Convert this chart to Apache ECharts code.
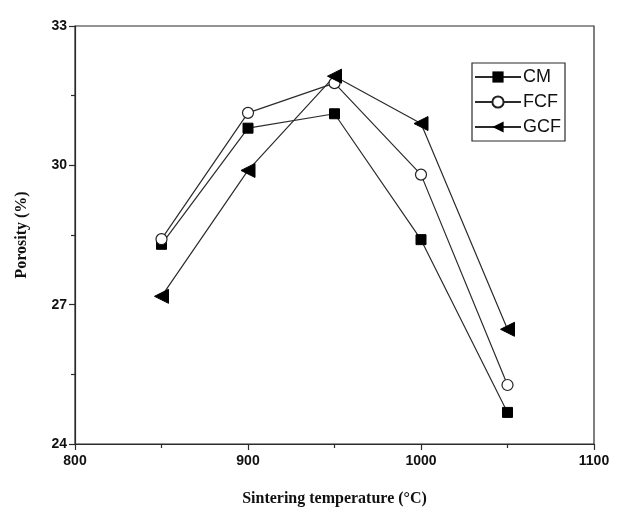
<!DOCTYPE html>
<html>
<head>
<meta charset="utf-8">
<script src="https://cdn.jsdelivr.net/npm/echarts@6/dist/echarts.min.js"></script>
<style>
  html, body { margin: 0; padding: 0; background: #fff; }
  #chart { width: 622px; height: 512px; }
</style>
</head>
<body>
<div id="chart"></div>
<script>
const temps = [850, 900, 950, 1000, 1050];
const cmVals = [28.30, 30.80, 31.11, 28.40, 24.68];
const fcfVals = [28.41, 31.13, 31.77, 29.80, 25.27];
const gcfVals = [27.18, 29.89, 31.92, 30.90, 26.47];
const seriesNames = ['CM', 'FCF', 'GCF'];

const lineColor = '#2b2b2b';
const pairs = vals => temps.map((t, i) => [t, vals[i]]);

const chart = echarts.init(document.getElementById('chart'));

const axisCommon = {
  axisLine: { show: true, lineStyle: { color: lineColor, width: 1.2 } },
  axisTick: { show: true, inside: false, length: 6, lineStyle: { color: lineColor, width: 1.2 } },
  minorTick: { show: true, splitNumber: 2, length: 4, lineStyle: { color: lineColor, width: 1.2 } },
  splitLine: { show: false },
  axisLabel: { color: '#111', fontFamily: 'Arial, Liberation Sans, sans-serif', fontWeight: 'bold', fontSize: 14, formatter: v => String(v) },
  nameTextStyle: { color: '#111', fontFamily: 'Liberation Serif, Times New Roman, serif', fontWeight: 'bold', fontSize: 16 }
};

chart.setOption({
  animation: false,
  backgroundColor: '#fff',
  grid: {
    left: 75, right: 28, top: 26, bottom: 67,
    show: true, borderColor: lineColor, borderWidth: 1.2, backgroundColor: 'transparent'
  },
  legend: {
    orient: 'vertical',
    left: 472, top: 63,
    data: seriesNames,
    borderColor: lineColor, borderWidth: 1.2,
    padding: [5, 4, 5, 2],
    itemGap: 7,
    itemWidth: 46, itemHeight: 14,
    textStyle: { color: '#111', fontFamily: 'Arial, Liberation Sans, sans-serif', fontSize: 18, padding: [0, 0, 0, -3] }
  },
  xAxis: Object.assign({}, axisCommon, {
    type: 'value', min: 800, max: 1100, interval: 100,
    name: 'Sintering temperature (°C)', nameLocation: 'middle', nameGap: 47,
    axisLabel: Object.assign({}, axisCommon.axisLabel, { margin: 10 })
  }),
  yAxis: Object.assign({}, axisCommon, {
    type: 'value', min: 24, max: 33, interval: 3,
    name: 'Porosity (%)', nameLocation: 'middle', nameGap: 45,
    axisLabel: Object.assign({}, axisCommon.axisLabel, { margin: 8 })
  }),
  series: [
    {
      name: 'CM', type: 'line', data: pairs(cmVals),
      symbol: 'rect', symbolSize: 10,
      lineStyle: { color: lineColor, width: 1.2 },
      itemStyle: { color: '#000', borderColor: '#000' }
    },
    {
      name: 'FCF', type: 'line', data: pairs(fcfVals),
      symbol: 'circle', symbolSize: 11,
      lineStyle: { color: lineColor, width: 1.2 },
      itemStyle: { color: '#fff', borderColor: '#222', borderWidth: 1.2 }
    },
    {
      name: 'GCF', type: 'line', data: pairs(gcfVals),
      symbol: 'triangle', symbolSize: 14, symbolRotate: 90,
      lineStyle: { color: lineColor, width: 1.2 },
      itemStyle: { color: '#000', borderColor: '#000' }
    }
  ]
});
</script>
</body>
</html>
